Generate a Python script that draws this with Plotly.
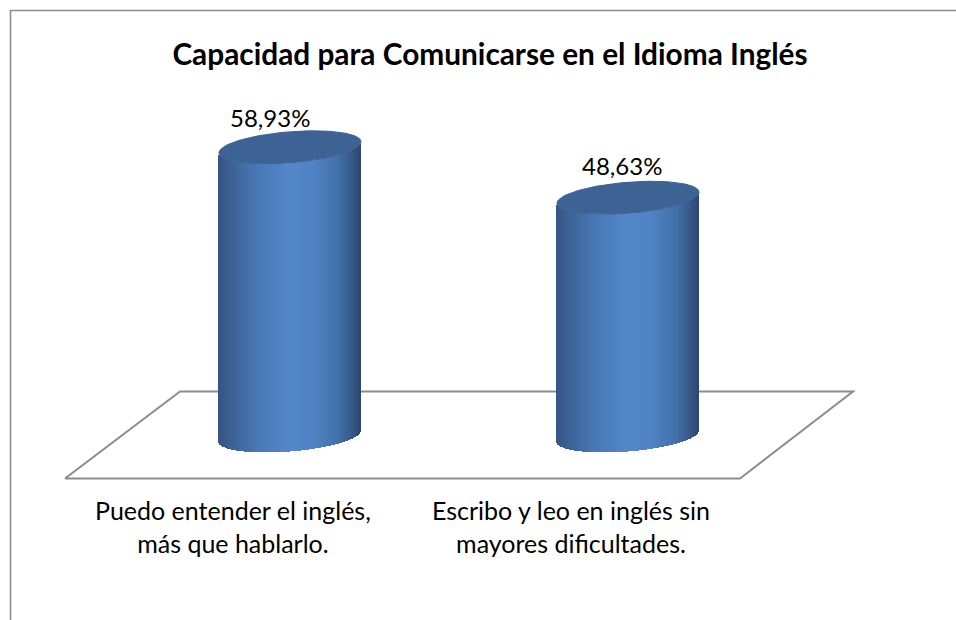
import numpy as np
import plotly.graph_objects as go

W, H = 956, 620
# pixeles por unidad del eje (1% = 4.9 px)
PX_PER_UNIT = 4.9
ZERO_PX = 436
PLOT_BOTTOM = 479

categorias = ["Puedo entender el inglés,<br>más que hablarlo.",
              "Escribo y leo en inglés sin<br>mayores dificultades."]
valores = [58.93, 48.63]
centros = [290, 628]
centros_texto = [233, 571]
etiquetas = ["58,93%", "48,63%"]
etiqueta_dx = [-20, -6]
etiqueta_dy = [30, 32]

RADIO = 71
ELIPSE_B = 15.5
ELIPSE_S = 5.5

# degradado horizontal del cilindro: (posicion, rgb)
stops_pos = [0, 0.08, 0.25, 0.5, 0.68, 0.85, 0.96, 1]
stops_rgb = np.array([
    [52, 86, 133], [60, 96, 147], [71, 118, 178], [84, 136, 203],
    [80, 130, 196], [66, 112, 168], [52, 84, 130], [46, 72, 112]])


def color_en(p):
    c = [np.interp(p, stops_pos, stops_rgb[:, i]) for i in range(3)]
    return "rgb(%d,%d,%d)" % tuple(c)


def px2val(px):
    return px / PX_PER_UNIT


def paper_y(py):
    # el "paper" de plotly es el area de trazado, no toda la figura
    return 1 - py / PLOT_BOTTOM


fig = go.Figure()

for cat, val, cx in zip(categorias, valores, centros):
    xs = np.arange(cx - RADIO + 0.5, cx + RADIO, 1.0)
    u = (xs - cx) / RADIO
    borde = px2val(u * ELIPSE_S - ELIPSE_B * np.sqrt(1 - u ** 2))
    fig.add_trace(go.Bar(x=xs, y=[val] * len(xs), base=borde, width=1.3,
                         marker=dict(color=[color_en(p) for p in (u + 1) / 2], line_width=0),
                         name=cat.replace("<br>", " "), hoverinfo="skip", showlegend=False))
    # tapa superior
    t = np.linspace(0, 2 * np.pi, 120)
    fig.add_trace(go.Scatter(x=cx + RADIO * np.cos(t),
                             y=val + px2val(ELIPSE_B * np.sin(t) + ELIPSE_S * np.cos(t)),
                             mode="lines", fill="toself", fillcolor="#3c6394",
                             line=dict(color="#3c6394", width=1),
                             hoverinfo="skip", showlegend=False))

for val, cx, txt, dx, dy in zip(valores, centros, etiquetas, etiqueta_dx, etiqueta_dy):
    fig.add_annotation(x=cx + dx, y=val, text=txt, showarrow=False, yshift=dy,
                       font=dict(family="Lato", size=24, color="black"))

for cat, cx in zip(categorias, centros_texto):
    fig.add_annotation(x=cx, yref="paper", y=paper_y(526), text=cat,
                       showarrow=False, yanchor="middle",
                       font=dict(family="Lato", size=25, color="black"))


def line(pts, width):
    path = "M " + " L ".join(f"{x / W},{paper_y(y)}" for x, y in pts)
    return dict(type="path", path=path, xref="paper", yref="paper", layer="below",
                line=dict(color="#8c8c8c", width=width))


fig.update_layout(
    width=W, height=H,
    margin=dict(l=0, r=0, t=0, b=H - PLOT_BOTTOM, pad=0),
    paper_bgcolor="white", plot_bgcolor="rgba(0,0,0,0)",
    barmode="overlay", bargap=0, showlegend=False,
    title=dict(text="<b>Capacidad para Comunicarse en el Idioma Inglés</b>",
               x=490 / W, xanchor="center", y=1 - 55 / H, yanchor="middle",
               font=dict(family="Lato", size=29.8, color="black")),
    xaxis=dict(range=[0, W], visible=False),
    yaxis=dict(range=[-(PLOT_BOTTOM - ZERO_PX) / PX_PER_UNIT, ZERO_PX / PX_PER_UNIT],
               visible=False),
    shapes=[line([(10.5, 620), (10.5, 10.5), (956, 10.5)], 1.6),
            line([(65, 478.5), (740, 478.5), (853, 391.5), (180, 391.5), (65, 478.5)], 2)],
)

fig.write_html("out.html", config=dict(displayModeBar=False),
               post_script="document.body.style.margin='0';document.body.style.overflow='hidden';")
